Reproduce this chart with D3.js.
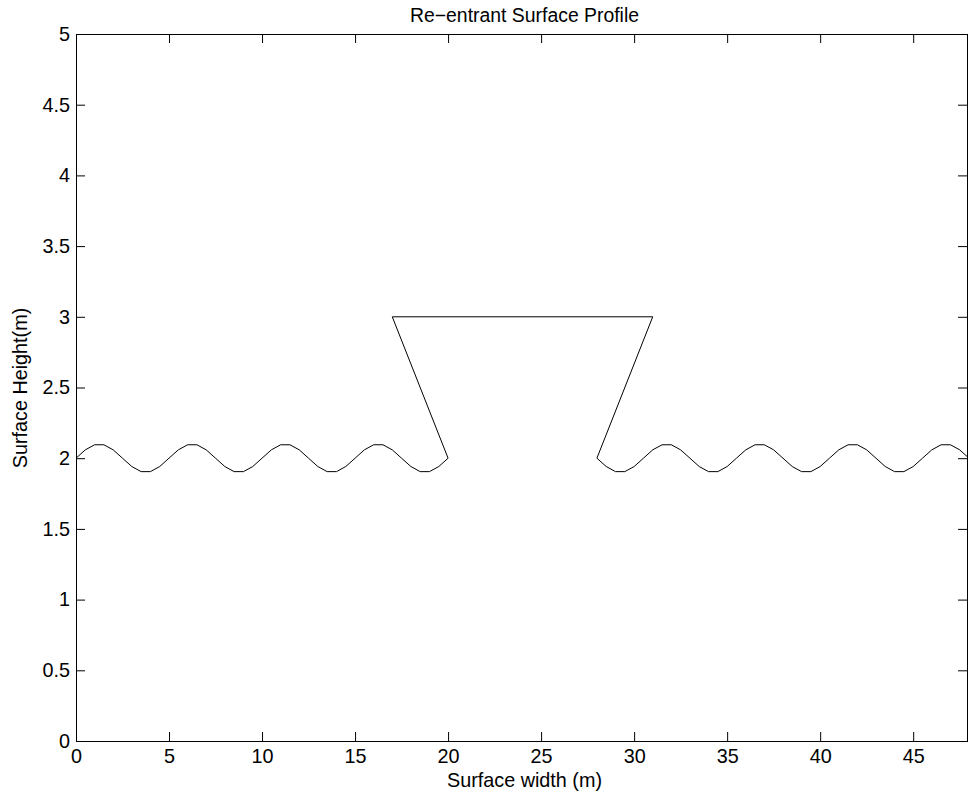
<!DOCTYPE html>
<html>
<head>
<meta charset="utf-8">
<script src="https://cdn.jsdelivr.net/npm/d3@7"></script>
<style>
  html, body { margin: 0; padding: 0; background: #fff; }
  svg { display: block; }
  text { font-family: "Liberation Sans", Arial, Helvetica, sans-serif; fill: #000; }
</style>
</head>
<body>
<svg id="chart" width="968" height="796"></svg>
<script>
// ---- data ----
const title = "Re\u2212entrant Surface Profile";
const xLabel = "Surface width (m)";
const yLabel = "Surface Height(m)";
const xTicks = [0, 5, 10, 15, 20, 25, 30, 35, 40, 45];
const yTicks = [0, 0.5, 1, 1.5, 2, 2.5, 3, 3.5, 4, 4.5, 5];
const xDomain = [0, 48];
const yDomain = [0, 5];

// left wavy surface (x = 0 .. 20)
const leftX = [0,0.5,1,1.5,2,2.5,3,3.5,4,4.5,5,5.5,6,6.5,7,7.5,8,8.5,9,9.5,10,
  10.5,11,11.5,12,12.5,13,13.5,14,14.5,15,15.5,16,16.5,17,17.5,18,18.5,19,19.5,20];
const leftY = [2,2.059,2.095,2.095,2.059,2,1.941,1.905,1.905,1.941,
  2,2.059,2.095,2.095,2.059,2,1.941,1.905,1.905,1.941,
  2,2.059,2.095,2.095,2.059,2,1.941,1.905,1.905,1.941,
  2,2.059,2.095,2.095,2.059,2,1.941,1.905,1.905,1.941,2];
// re-entrant block
const blockX = [17, 31];
const blockY = [3, 3];
// right wavy surface (x = 28 .. 48)
const rightX = [28,28.5,29,29.5,30,30.5,31,31.5,32,32.5,33,33.5,34,34.5,35,35.5,36,36.5,37,37.5,
  38,38.5,39,39.5,40,40.5,41,41.5,42,42.5,43,43.5,44,44.5,45,45.5,46,46.5,47,47.5,48];
const rightY = [2,1.941,1.905,1.905,1.941,2,2.059,2.095,2.095,2.059,
  2,1.941,1.905,1.905,1.941,2,2.059,2.095,2.095,2.059,
  2,1.941,1.905,1.905,1.941,2,2.059,2.095,2.095,2.059,
  2,1.941,1.905,1.905,1.941,2,2.059,2.095,2.095,2.059,2];

// ---- chart ----
const svg = d3.select("#chart");
const m = { left: 76, top: 34, right: 969, bottom: 741 };
const x = d3.scaleLinear().domain(xDomain).range([m.left, m.right]);
const y = d3.scaleLinear().domain(yDomain).range([m.bottom, m.top]);

const pts = [];
leftX.forEach((v, i) => pts.push([v, leftY[i]]));
blockX.forEach((v, i) => pts.push([v, blockY[i]]));
rightX.forEach((v, i) => pts.push([v, rightY[i]]));

const line = d3.line().x(d => x(d[0])).y(d => y(d[1]));
svg.append("path").datum(pts)
  .attr("d", line)
  .attr("fill", "none")
  .attr("stroke", "#000")
  .attr("stroke-width", 1);

const tickLen = 9;
const fs = 19.8;
// bottom axis
const xb = d3.axisBottom(x).tickValues(xTicks).tickSize(-tickLen).tickPadding(8).tickFormat(d3.format("~g"));
const gx = svg.append("g").attr("transform", `translate(0,${m.bottom})`).call(xb);
// top axis (mirror ticks)
const xt = d3.axisTop(x).tickValues(xTicks).tickSize(-tickLen).tickFormat("");
const gxt = svg.append("g").attr("transform", `translate(0,${m.top})`).call(xt);
// left axis
const yl = d3.axisLeft(y).tickValues(yTicks).tickSize(-tickLen).tickPadding(6).tickFormat(d3.format("~g"));
const gy = svg.append("g").attr("transform", `translate(${m.left},0)`).call(yl);
// right axis (mirror ticks)
const yr = d3.axisRight(y).tickValues(yTicks).tickSize(-tickLen).tickFormat("");
const gyr = svg.append("g").attr("transform", `translate(${m.right - 2},0)`).call(yr);

[gx, gxt, gy, gyr].forEach(g => {
  g.select(".domain").attr("stroke", "#000").attr("stroke-width", 1);
  g.selectAll(".tick line").attr("stroke", "#000");
  g.selectAll("text").style("font-family", '"Liberation Sans", Arial, sans-serif').style("font-size", fs + "px").attr("fill", "#000");
});

// titles
svg.append("text").attr("x", 524.5).attr("y", 22).attr("text-anchor", "middle")
  .style("font-size", "19.4px").text(title);
svg.append("text").attr("x", 524.5).attr("y", 787).attr("text-anchor", "middle")
  .style("font-size", "19.8px").text(xLabel);
svg.append("text").attr("transform", "translate(27,388) rotate(-90)").attr("text-anchor", "middle")
  .style("font-size", "19.8px").text(yLabel);
</script>
</body>
</html>
